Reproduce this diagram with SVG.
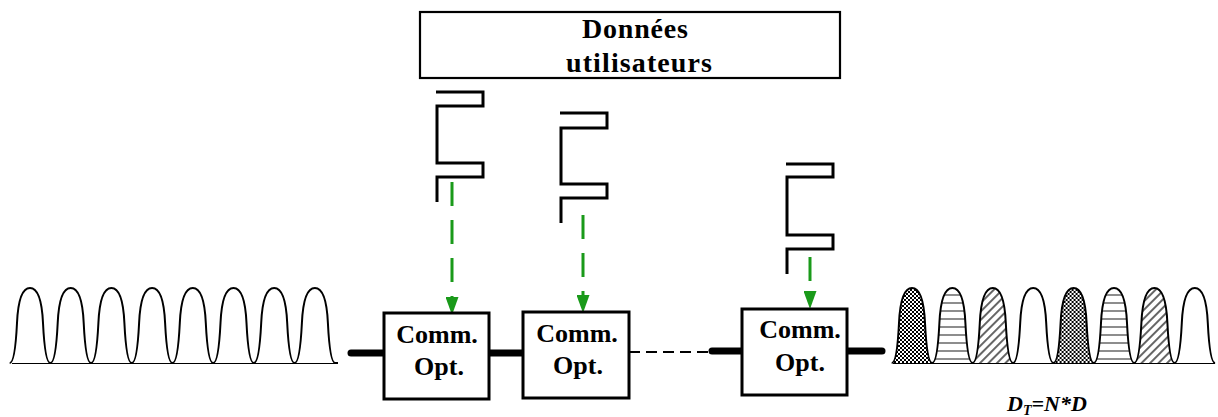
<svg xmlns="http://www.w3.org/2000/svg" xmlns:xlink="http://www.w3.org/1999/xlink" width="1218" height="417" viewBox="0 0 1218 417">
<style>
.box{fill:#fff;stroke:#000;stroke-width:3}
.tbox{fill:#fff;stroke:#000;stroke-width:2.2}
.lbl{font-family:"Liberation Serif","Times New Roman",serif;font-weight:bold;fill:#000}
.sym{fill:none;stroke:#000;stroke-width:3;stroke-linejoin:miter}
.thick{stroke:#000;stroke-width:7;stroke-linecap:round;fill:none}
.dash{stroke:#000;stroke-width:2;stroke-dasharray:11 6;fill:none}
.green{stroke:#1a9a1a;stroke-width:3;stroke-dasharray:24 14;fill:none}
.pulse{stroke:#000;stroke-width:2}
.base{stroke:#000;stroke-width:2}
</style>
<defs>
<path id="p" d="M-20.3,0 C-16,0 -14,-20 -13,-40 C-12,-62 -7.5,-75 0,-75 C7.5,-75 12,-62 13,-40 C14,-20 16,0 20.3,0"/>
<pattern id="chk" width="4" height="4" patternUnits="userSpaceOnUse">
<rect width="4" height="4" fill="#fff"/>
<rect width="2" height="2" fill="#000"/>
<rect x="2" y="2" width="2" height="2" fill="#000"/>
</pattern>
<pattern id="hor" width="8" height="8" patternUnits="userSpaceOnUse">
<rect width="8" height="8" fill="#fff"/>
<line x1="0" y1="4" x2="8" y2="4" stroke="#808080" stroke-width="1.8"/>
</pattern>
<pattern id="diag" width="6" height="6" patternUnits="userSpaceOnUse" patternTransform="rotate(45)">
<rect width="6" height="6" fill="#fff"/>
<line x1="3" y1="0" x2="3" y2="6" stroke="#000" stroke-width="1.2"/>
</pattern>
<marker id="ah" viewBox="0 0 18 13" refX="0" refY="6.5" markerWidth="18" markerHeight="13" markerUnits="userSpaceOnUse" orient="auto">
<path d="M0,0 L18,6.5 L0,13 z" fill="#1a9a1a"/>
</marker>
</defs>

<g id="input-signal">
<line class="base" x1="12" y1="363" x2="338" y2="363"/>
<g class="pulse" fill="#fff">
<use xlink:href="#p" transform="translate(30,363)"/>
<use xlink:href="#p" transform="translate(70.7,363)"/>
<use xlink:href="#p" transform="translate(111.4,363)"/>
<use xlink:href="#p" transform="translate(152.1,363)"/>
<use xlink:href="#p" transform="translate(192.8,363)"/>
<use xlink:href="#p" transform="translate(233.5,363)"/>
<use xlink:href="#p" transform="translate(274.2,363)"/>
<use xlink:href="#p" transform="translate(314.9,363)"/>
</g>
</g>

<g id="output-signal">
<line class="base" x1="893" y1="363" x2="1215" y2="363"/>
<g class="pulse">
<use xlink:href="#p" transform="translate(912,363)" fill="url(#chk)"/>
<use xlink:href="#p" transform="translate(952.4,363)" fill="url(#hor)"/>
<use xlink:href="#p" transform="translate(992.8,363)" fill="url(#diag)"/>
<use xlink:href="#p" transform="translate(1033.2,363)" fill="#fff"/>
<use xlink:href="#p" transform="translate(1073.6,363)" fill="url(#chk)"/>
<use xlink:href="#p" transform="translate(1114,363)" fill="url(#hor)"/>
<use xlink:href="#p" transform="translate(1154.4,363)" fill="url(#diag)"/>
<use xlink:href="#p" transform="translate(1194.8,363)" fill="#fff"/>
</g>
<text class="lbl" font-style="italic" font-size="22" x="1007" y="411">D<tspan font-size="14" dy="4">T</tspan><tspan dy="-4">=N*D</tspan></text>
</g>

<g id="donnees-utilisateurs">
<rect class="tbox" x="420" y="12" width="420" height="66"/>
<text class="lbl" font-size="28" x="582" y="38" textLength="106">Données</text>
<text class="lbl" font-size="28" x="566" y="71.5" textLength="146">utilisateurs</text>
</g>

<g id="data-1">
<path class="sym" d="M436,92 H483 V106 H437 V163 H483 V177 H437 V202"/>
</g>
<g id="data-2">
<path class="sym" d="M560,113 H607 V128 H561 V184 H607 V198 H561 V223"/>
</g>
<g id="data-3">
<path class="sym" d="M786,164 H833 V177 H787 V235 H833 V249 H787 V274"/>
</g>

<g id="connectors">
<line class="thick" x1="351" y1="353" x2="384" y2="353"/>
<line class="thick" x1="489" y1="353" x2="523" y2="353"/>
<line class="dash" x1="629" y1="352" x2="710" y2="352"/>
<line class="thick" x1="712" y1="351" x2="742" y2="351"/>
<line class="thick" x1="848" y1="351" x2="882" y2="351"/>
<line class="green" x1="452" y1="182" x2="452" y2="297" marker-end="url(#ah)"/>
<line class="green" x1="583" y1="215" x2="583" y2="295" marker-end="url(#ah)"/>
<line class="green" x1="810" y1="257" x2="810" y2="291" marker-end="url(#ah)"/>
</g>

<g id="comm-1">
<rect class="box" x="384" y="313" width="105" height="86"/>
<text class="lbl" font-size="26" text-anchor="middle" x="437" y="343">Comm.</text>
<text class="lbl" font-size="26" text-anchor="middle" x="439" y="375">Opt.</text>
</g>
<g id="comm-2">
<rect class="box" x="523" y="312" width="106" height="86"/>
<text class="lbl" font-size="26" text-anchor="middle" x="577" y="342">Comm.</text>
<text class="lbl" font-size="26" text-anchor="middle" x="578" y="374">Opt.</text>
</g>
<g id="comm-3">
<rect class="box" x="742" y="309" width="105" height="86"/>
<text class="lbl" font-size="26" text-anchor="middle" x="800" y="338">Comm.</text>
<text class="lbl" font-size="26" text-anchor="middle" x="800" y="371">Opt.</text>
</g>
</svg>
